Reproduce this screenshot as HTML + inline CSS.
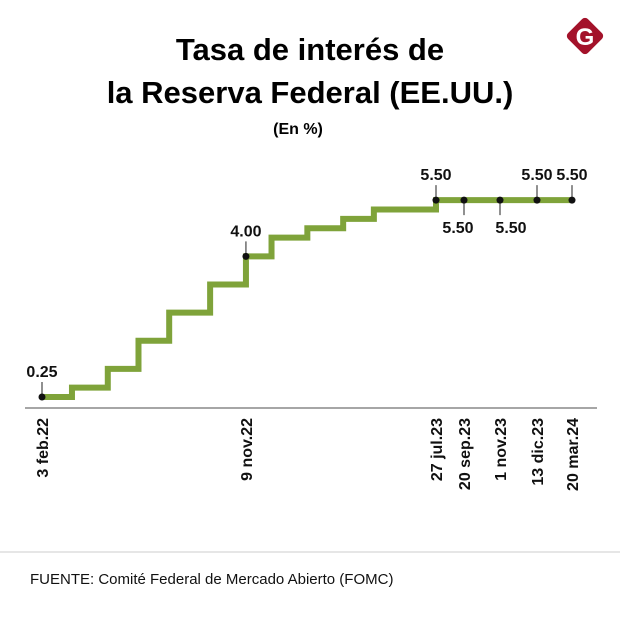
<!DOCTYPE html>
<html><head><meta charset="utf-8"><style>
body{margin:0;background:#fff;font-family:"Liberation Sans",sans-serif}
#wrap{position:relative;width:620px;height:619px;overflow:hidden}
</style></head><body>
<div id="wrap">
<svg id="svg" width="620" height="619" viewBox="0 0 620 619">
  <text x="310" y="60" text-anchor="middle" font-size="31" font-weight="bold" fill="#000">Tasa de interés de</text>
  <text x="310" y="103" text-anchor="middle" font-size="31" font-weight="bold" fill="#000">la Reserva Federal (EE.UU.)</text>
  <text x="298" y="134" text-anchor="middle" font-size="16" font-weight="bold" fill="#000">(En %)</text>
  <g>
    <rect x="571" y="22" width="28" height="28" rx="4" fill="#a3122a" transform="rotate(45 585 36)"/>
    <text x="585" y="45" text-anchor="middle" font-size="24" font-weight="bold" fill="#fff">G</text>
  </g>
  <line x1="25" y1="408" x2="597" y2="408" stroke="#888" stroke-width="1.5"/>
  <g id="plot"></g>
  <line x1="0" y1="552" x2="620" y2="552" stroke="#ccc" stroke-width="1"/>
  <text x="30" y="584" font-size="15" fill="#111">FUENTE: Comité Federal de Mercado Abierto (FOMC)</text>
</svg>
</div>
<script>
const stepDates = ["2022-02-03","2022-03-16","2022-05-04","2022-06-15","2022-07-27","2022-09-21","2022-11-09","2022-12-14","2023-02-01","2023-03-22","2023-05-03","2023-07-27"];
const stepRates = [0.25,0.5,1,1.75,2.5,3.25,4,4.5,4.75,5,5.25,5.5];
const endDate = "2024-03-20";
const markDates = ["2022-02-03","2022-11-09","2023-07-27","2023-09-20","2023-11-01","2023-12-13","2024-03-20"];
const markValues = [0.25,4,5.5,5.5,5.5,5.5,5.5];
const markLabels = ["0.25","4.00","5.50","5.50","5.50","5.50","5.50"];
const markBelow = [false,false,false,true,true,false,false];
const tickLabels = ["3 feb.22","9 nov.22","27 jul.23","20 sep.23","1 nov.23","13 dic.23","20 mar.24"];

const NS="http://www.w3.org/2000/svg";
const dom=["2022-02-03","2023-07-27","2023-09-20","2023-11-01","2023-12-13","2024-03-20"].map(d=>Date.parse(d));
const rng=[42,436,464,500,537,572];
function x(d){const t=Date.parse(d);
  for(let i=0;i<dom.length-1;i++){ if(t<=dom[i+1]||i===dom.length-2){return rng[i]+(t-dom[i])/(dom[i+1]-dom[i])*(rng[i+1]-rng[i]);} }
}
function y(v){return 397-(v-0.25)*37.5;}
const plot=document.getElementById('plot');
function mk(tag,attrs){const e=document.createElementNS(NS,tag);for(const k in attrs)e.setAttribute(k,attrs[k]);plot.appendChild(e);return e;}

let d="";
for(let i=0;i<stepDates.length;i++){
  const xs=x(stepDates[i]), xe=x(i<stepDates.length-1?stepDates[i+1]:endDate), yy=y(stepRates[i]);
  d+=(i===0?"M":"L")+xs+","+yy+" L"+xe+","+yy+" ";
}
const line=mk('path',{d:d,fill:"none",stroke:"#7fa33a","stroke-width":6,"stroke-linejoin":"miter"});



for(let i=0;i<markDates.length;i++){
  const mx=x(markDates[i]), my=y(markValues[i]);
  const below=markBelow[i];
  const tk=mk('line',{x1:mx,y1:my,x2:mx,y2:below?my+15:my-15,stroke:"#222","stroke-width":1});
  
  
  const c=mk('circle',{cx:mx,cy:my,r:3.5,fill:"#111"});
  
  
  const lx = below ? (i===3? mx-6 : mx+11) : mx;
  const t=mk('text',{x:lx,y:below?my+33:my-20,"text-anchor":"middle","font-size":16,"font-weight":"bold",fill:"#111"});
  t.textContent=markLabels[i];
  
  
  const xl=mk('text',{x:0,y:0,"text-anchor":"end","font-size":16,"font-weight":"bold",fill:"#111",transform:"translate("+(mx+6)+",418) rotate(-90)"});
  xl.textContent=tickLabels[i];
  
  
}
</script>
</body></html>
